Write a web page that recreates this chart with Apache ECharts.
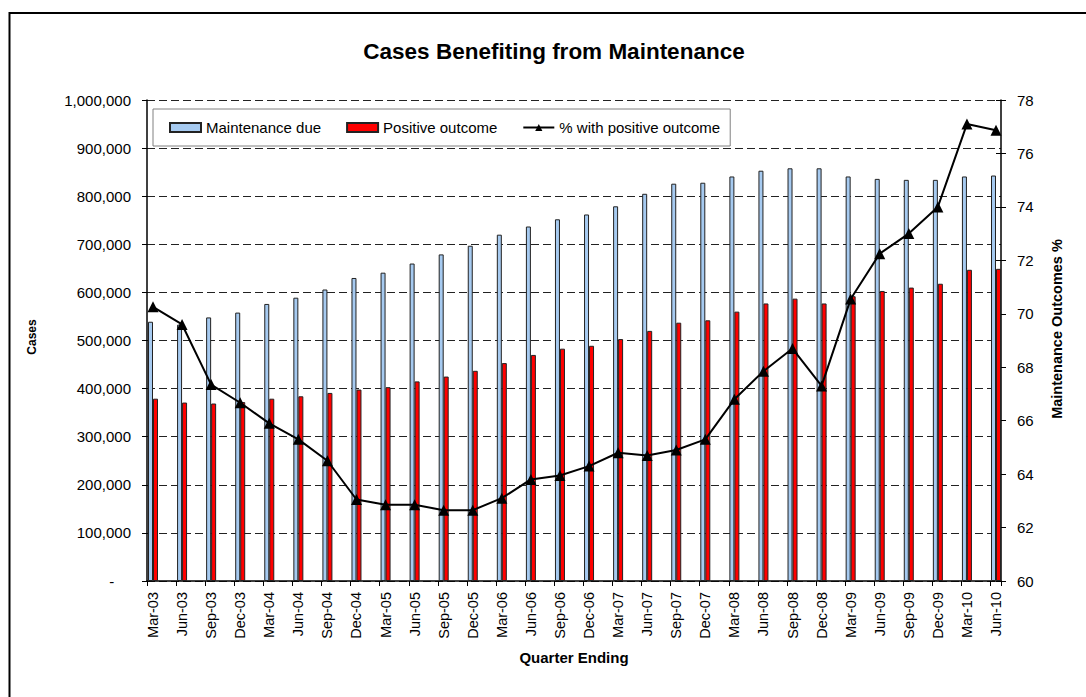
<!DOCTYPE html>
<html>
<head>
<meta charset="utf-8">
<title>Cases Benefiting from Maintenance</title>
<script src="https://cdn.jsdelivr.net/npm/echarts@6.0.0/dist/echarts.min.js"></script>
<style>
  html, body { margin: 0; padding: 0; background: #fff; }
  #main { width: 1086px; height: 697px; }
</style>
</head>
<body>
<div id="main"></div>
<script>
// quarter ending labels
const quarters = [
  'Mar-03', 'Jun-03', 'Sep-03', 'Dec-03', 'Mar-04', 'Jun-04', 'Sep-04', 'Dec-04',
  'Mar-05', 'Jun-05', 'Sep-05', 'Dec-05', 'Mar-06', 'Jun-06', 'Sep-06', 'Dec-06',
  'Mar-07', 'Jun-07', 'Sep-07', 'Dec-07', 'Mar-08', 'Jun-08', 'Sep-08', 'Dec-08',
  'Mar-09', 'Jun-09', 'Sep-09', 'Dec-09', 'Mar-10', 'Jun-10'
];

// cases with maintenance due
const maintenanceDue = [
  539000, 533000, 548000, 558000, 576000, 589000, 606000, 630000,
  641000, 660000, 679000, 697000, 720000, 737000, 752000, 762000,
  779000, 805000, 826000, 828000, 841000, 853000, 858000, 858000,
  841000, 836000, 834000, 834000, 841000, 843000
];

// cases with a positive outcome
const positiveOutcome = [
  379000, 371000, 369000, 372000, 379000, 384000, 391000, 398000,
  403000, 415000, 425000, 437000, 453000, 470000, 483000, 489000,
  503000, 520000, 537000, 542000, 560000, 577000, 587000, 577000,
  592000, 603000, 610000, 618000, 647000, 649000
];

// % with positive outcome (right axis)
const pctPositive = [
  70.26, 69.6, 67.35, 66.67, 65.9, 65.3, 64.5, 63.05,
  62.85, 62.85, 62.65, 62.65, 63.1, 63.8, 63.95, 64.3,
  64.8, 64.7, 64.9, 65.3, 66.8, 67.85, 68.7, 67.3,
  70.55, 72.25, 73.0, 74.0, 77.1, 76.87
];

const casesTicks = { min: 0, max: 1000000, interval: 100000 };
const pctTicks = { min: 60, max: 78, interval: 2 };

const FONT = '"Liberation Sans", Arial, Helvetica, sans-serif';

var chart = echarts.init(document.getElementById('main'), null, { renderer: 'svg' });

var option = {
  backgroundColor: '#fff',
  textStyle: { fontFamily: FONT, color: '#000' },
  animation: false,
  graphic: [
    {
      type: 'rect',
      shape: { x: 9.5, y: 13, width: 1200, height: 800 },
      style: { fill: 'none', stroke: '#000', lineWidth: 2 },
      silent: true
    },
    {
      type: 'text',
      x: 554, y: 51,
      style: {
        text: 'Cases Benefiting from Maintenance',
        font: 'bold 22.5px ' + FONT,
        fill: '#000', align: 'center', verticalAlign: 'middle'
      }
    },
    {
      type: 'text',
      x: 32, y: 337, rotation: Math.PI / 2,
      style: {
        text: 'Cases',
        font: 'bold 12px ' + FONT,
        fill: '#000', align: 'center', verticalAlign: 'middle'
      }
    },
    {
      type: 'text',
      x: 1057, y: 329, rotation: Math.PI / 2,
      style: {
        text: 'Maintenance Outcomes %',
        font: 'bold 14.5px ' + FONT,
        fill: '#000', align: 'center', verticalAlign: 'middle'
      }
    },
    {
      type: 'text',
      x: 574, y: 657,
      style: {
        text: 'Quarter Ending',
        font: 'bold 15px ' + FONT,
        fill: '#000', align: 'center', verticalAlign: 'middle'
      }
    }
  ],
  legend: {
    data: [
      { name: 'Maintenance due', icon: 'rect' },
      { name: 'Positive outcome', icon: 'rect' },
      { name: '% with positive outcome' }
    ],
    left: 153,
    top: 109,
    padding: [11, 10, 11, 16],
    backgroundColor: '#fff',
    borderColor: '#808080',
    borderWidth: 1,
    itemWidth: 31,
    itemHeight: 9,
    itemGap: 25,
    textStyle: { fontSize: 15, color: '#000', fontFamily: FONT }
  },
  // grid 0 holds the frame and the visible y axes, grid 1 the data
  grid: [
    { left: 147, right: 85, top: 100, bottom: 116 },
    { left: 153, right: 90, top: 100, bottom: 116 }
  ],
  xAxis: [
    {
      gridIndex: 0,
      type: 'value',
      min: 0,
      max: 854,
      interval: 29.09,
      axisLine: { show: true, onZero: false, lineStyle: { color: '#000', width: 1.5 } },
      axisTick: { show: true, length: 5, lineStyle: { color: '#000' } },
      axisLabel: { show: false },
      splitLine: { show: false }
    },
    {
      gridIndex: 1,
      type: 'category',
      data: quarters,
      boundaryGap: false,
      axisLine: { show: false },
      axisTick: { show: false },
      axisLabel: {
        interval: 0,
        rotate: 90,
        margin: 11,
        fontSize: 14.5,
        color: '#000',
        fontFamily: FONT
      }
    }
  ],
  yAxis: [
    {
      gridIndex: 0,
      type: 'value',
      position: 'left',
      min: casesTicks.min,
      max: casesTicks.max,
      interval: casesTicks.interval,
      axisLine: { show: true, lineStyle: { color: '#000', width: 1.5 } },
      axisTick: { show: true, length: 5, lineStyle: { color: '#000' } },
      axisLabel: {
        margin: 16,
        fontSize: 15,
        color: '#000',
        fontFamily: FONT,
        formatter: function (v) {
          return v === 0 ? '-    ' : v.toLocaleString('en-US');
        }
      },
      splitLine: {
        show: true,
        lineStyle: { color: '#222', width: 1, type: [8, 4] }
      }
    },
    {
      gridIndex: 0,
      type: 'value',
      position: 'right',
      min: pctTicks.min,
      max: pctTicks.max,
      interval: pctTicks.interval,
      axisLine: { show: true, lineStyle: { color: '#000', width: 1.5 } },
      axisTick: { show: true, length: 5, lineStyle: { color: '#000' } },
      axisLabel: { margin: 16, fontSize: 15, color: '#000', fontFamily: FONT },
      splitLine: { show: false }
    },
    {
      // inner half of the right axis ticks
      gridIndex: 0,
      type: 'value',
      position: 'right',
      min: pctTicks.min,
      max: pctTicks.max,
      interval: pctTicks.interval,
      axisLine: { show: false },
      axisTick: { show: true, inside: true, length: 5, lineStyle: { color: '#000' } },
      axisLabel: { show: false },
      splitLine: { show: false }
    },
    {
      gridIndex: 1,
      type: 'value',
      min: casesTicks.min,
      max: casesTicks.max,
      show: false
    },
    {
      gridIndex: 1,
      type: 'value',
      min: pctTicks.min,
      max: pctTicks.max,
      show: false
    }
  ],
  series: [
    {
      name: 'Maintenance due',
      type: 'bar',
      xAxisIndex: 1,
      yAxisIndex: 3,
      data: maintenanceDue,
      barWidth: 5,
      barGap: '0%',
      itemStyle: { color: '#A6CAF0', borderColor: '#222', borderWidth: 1 }
    },
    {
      name: 'Positive outcome',
      type: 'bar',
      xAxisIndex: 1,
      yAxisIndex: 3,
      data: positiveOutcome,
      barWidth: 5,
      barGap: '0%',
      itemStyle: { color: '#FF0000', borderColor: '#222', borderWidth: 1 }
    },
    {
      name: '% with positive outcome',
      type: 'line',
      xAxisIndex: 1,
      yAxisIndex: 4,
      data: pctPositive,
      symbol: 'triangle',
      symbolSize: 11,
      z: 5,
      lineStyle: { color: '#000', width: 2 },
      itemStyle: { color: '#000' }
    }
  ]
};

option && chart.setOption(option);
</script>
</body>
</html>
